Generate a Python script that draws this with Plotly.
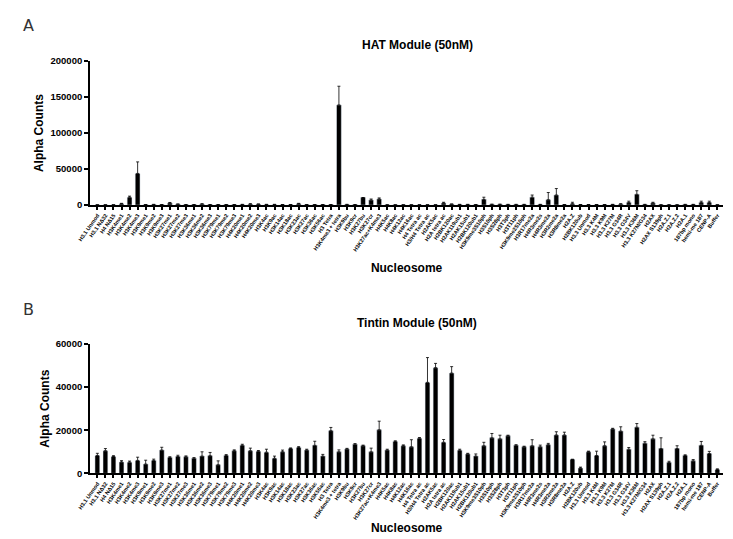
import plotly.graph_objects as go
from plotly.subplots import make_subplots

nucleosomes = [
    "H3.1 Unmod", "H3.1 NΔ32", "H4 NΔ15", "H3K4me1", "H3K4me2", "H3K4me3",
    "H3K9me1", "H3K9me2", "H3K9me3", "H3K27me1", "H3K27me2", "H3K27me3",
    "H3K36me1", "H3K36me2", "H3K36me3", "H3K79me1", "H3K79me2", "H3K79me3",
    "H4K20me1", "H4K20me2", "H4K20me3", "H3K4ac", "H3K9ac", "H3K14ac",
    "H3K18ac", "H3K23ac", "H3K27ac", "H3K36ac", "H3K56ac", "H3 Tetra",
    "H3K4me3 + tetra", "H3K9bu", "H3K9cr", "H3K27bu", "H3K27cr",
    "H3K27ac+K4me3", "H4K5ac", "H4K8ac", "H4K12ac", "H4K16ac", "H4 Tetra ac",
    "H3/H4 Tetra ac", "H2AK5ac", "H2A tetra ac", "H2BK120ac", "H2AK119ub1",
    "H2AK15ub1", "H2BK120ub1", "H3K9me3S10ph", "H3S10ph", "H3S28ph",
    "H3T3ph", "H3T11ph", "H3K9me2S10ph", "H3R17me2a", "H4R3me2s",
    "H4R3me2a", "H3R2me2a", "H3R8me2a", "H2A.Z", "H2BK120ub", "H3.3 Unmod",
    "H3.3 K4M", "H3.3 K9M", "H3.3 K27M", "H3.3 G34R", "H3.3 G34V",
    "H3.3 K36M", "H3.3 K27M/G34", "H2AX", "H2AX S139ph", "H2A.Z.1",
    "H2A.Z.2", "H2A.1", "187bp mono", "hemi-me 187", "CENP-A", "Buffer",
]

hat_counts = [
    500, 500, 500, 2000, 11000, 44000, 800, 1000, 800, 3000, 1500, 800,
    800, 1500, 800, 800, 800, 800, 1000, 1500, 1500, 1000, 1000, 800,
    800, 2000, 800, 800, 800, 800, 139000, 1000, 800, 10500, 7000,
    8500, 500, 500, 500, 500, 500, 500, 500, 3000, 1500, 1000,
    1000, 800, 8000, 1200, 1200, 1000, 1000, 1000, 11000, 1000,
    7500, 14000, 800, 2000, 800, 800, 800, 800, 1000, 1500, 3500,
    15000, 1000, 3000, 500, 500, 500, 1000, 1000, 3500, 3500, 500,
]
hat_err = [
    0, 0, 0, 500, 1500, 16000, 0, 0, 0, 700, 0, 0,
    0, 500, 0, 0, 0, 0, 0, 500, 0, 0, 0, 0,
    0, 500, 0, 0, 0, 0, 26000, 0, 0, 0, 1500,
    1500, 0, 0, 0, 0, 0, 0, 0, 1000, 0, 0,
    0, 0, 3000, 0, 0, 0, 0, 0, 3000, 0,
    10000, 9000, 0, 2000, 0, 0, 0, 0, 0, 500, 2000,
    5000, 0, 1000, 0, 0, 0, 0, 0, 2000, 2000, 0,
]

tintin_counts = [
    8300, 10500, 7800, 5300, 5200, 6000, 4300, 6000, 10800, 7400, 7800, 7700,
    7000, 8000, 8200, 4000, 8300, 10500, 13000, 10500, 10200, 9800, 7000, 10000,
    11500, 12000, 10800, 13000, 8000, 19800, 10000, 11300, 13500, 12800, 10000,
    20200, 10800, 14800, 12800, 12300, 16300, 42200, 49000, 14400, 46500, 10700,
    9000, 8000, 12800, 16500, 16000, 17400, 13000, 12300, 12800, 12300,
    13300, 17800, 17800, 6500, 2500, 10000, 8300, 12800, 20600, 19600, 11200,
    21400, 14000, 16000, 11500, 5000, 11500, 8300, 5800, 13000, 9200, 1800,
]
tintin_err = [
    1000, 1000, 400, 600, 500, 1500, 1800, 600, 1300, 300, 600, 400,
    300, 2000, 1500, 1800, 400, 400, 500, 1200, 400, 1400, 1000, 800,
    300, 400, 400, 1900, 800, 1500, 900, 300, 300, 300, 1700,
    4000, 400, 300, 400, 3300, 300, 11500, 2000, 1300, 3000, 500,
    300, 1000, 1600, 2000, 1700, 300, 300, 300, 2800, 800,
    600, 1500, 1300, 0, 400, 300, 2000, 1800, 300, 2000, 800,
    1700, 700, 1700, 5000, 600, 1300, 300, 600, 1800, 1000, 300,
]

fig = make_subplots(rows=2, cols=1)

for row, vals, errs in [(1, hat_counts, hat_err), (2, tintin_counts, tintin_err)]:
    fig.add_trace(go.Bar(
        x=nucleosomes, y=vals, marker_color="black", width=0.6,
        error_y=dict(type="data", array=errs, arrayminus=[0] * len(errs),
                     symmetric=False, color="black", thickness=0.8, width=1.5),
        showlegend=False,
    ), row=row, col=1)

font = "Liberation Sans"
axis_common = dict(showline=True, linecolor="black", linewidth=2, ticks="outside",
                   tickcolor="black", tickwidth=2, showgrid=False, zeroline=False)
title_font = dict(family=font, size=12, color="black", weight="bold")

fig.update_xaxes(**axis_common, ticklen=3, tickangle=-55,
                 tickfont=dict(family=font, size=5.5, color="black", weight="bold"),
                 range=[-0.9, len(nucleosomes) - 0.3], domain=[0.096, 0.975])
fig.update_yaxes(**axis_common, ticklen=4, tickformat="d",
                 tickfont=dict(family=font, size=9.5, color="black", weight="bold"))

fig.update_xaxes(title=dict(text="Nucleosome", font=title_font, standoff=12), row=1, col=1)
fig.update_xaxes(title=dict(text="Nucleosome", font=title_font, standoff=2), row=2, col=1)
fig.update_yaxes(domain=[0.638, 0.911], range=[0, 200000], dtick=50000,
                 title=dict(text="Alpha Counts", font=title_font, standoff=4), row=1, col=1)
fig.update_yaxes(domain=[0.13, 0.375], range=[0, 60000], dtick=20000,
                 title=dict(text="Alpha Counts", font=title_font, standoff=4), row=2, col=1)

fig.add_annotation(text="HAT Module (50nM)", x=0.55, y=1 - 22 / 539, xref="paper", yref="paper",
                   showarrow=False, font=title_font)
fig.add_annotation(text="Tintin Module (50nM)", x=0.55, y=1 - 315 / 539, xref="paper", yref="paper",
                   showarrow=False, font=title_font)
fig.add_annotation(text="A", x=0.0, y=1.0, xref="paper", yref="paper", xanchor="left", yanchor="top",
                   showarrow=False, font=dict(family="DejaVu Sans", size=16, color="#333"))
fig.add_annotation(text="B", x=0.0, y=1 - 290 / 539, xref="paper", yref="paper", xanchor="left",
                   yanchor="top", showarrow=False, font=dict(family="DejaVu Sans", size=16, color="#333"))

fig.update_layout(width=733, height=539, margin=dict(l=0, r=0, t=0, b=0),
                  plot_bgcolor="white", paper_bgcolor="white")

fig.write_html("out.html")
